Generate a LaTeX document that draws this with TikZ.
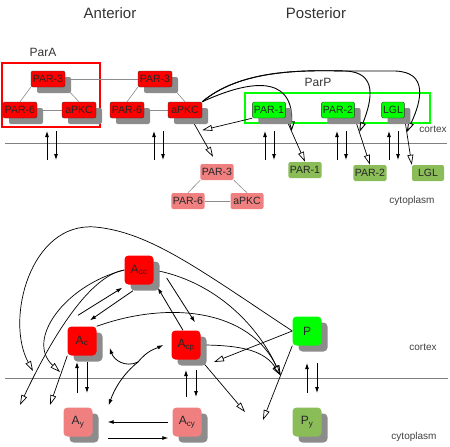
\documentclass[tikz,border=0pt]{standalone}
\usepackage{fontspec}
\setmainfont{Liberation Sans}
\usepackage{tikz}
\usetikzlibrary{arrows.meta,calc,positioning,shadows}

\definecolor{parred}{RGB}{255,0,0}
\definecolor{pargreen}{RGB}{0,255,0}
\definecolor{cytored}{RGB}{240,128,128}
\definecolor{cytogreen}{RGB}{138,188,88}
\pgfdeclarelayer{background}
\pgfsetlayers{background,main}

\begin{document}
\begin{tikzpicture}[
    x=1pt, y=-1pt,
    prot/.style={rectangle, rounded corners=2pt, draw=black!80, text=black!85,
        font=\fontsize{10.5}{11}\selectfont, inner xsep=1.5pt, inner ysep=0pt, minimum height=16pt},
    shade/.style={drop shadow={shadow xshift=6pt, shadow yshift=-6pt, fill=black!45, opacity=1}},
    antA/.style={prot, fill=parred, minimum width=34pt, shade},
    postP/.style={prot, fill=pargreen, shade},
    cytA/.style={prot, draw=none, fill=cytored, minimum width=33pt},
    cytP/.style={prot, draw=none, fill=cytogreen, minimum width=32pt},
    species/.style={rectangle, rounded corners=4pt, minimum width=29pt, minimum height=29pt,
        inner sep=0pt, font=\fontsize{12}{12}\selectfont, text=black!85, shade},
    link/.style={black!45, line width=0.6pt},
    membrane/.style={black!50, line width=0.6pt},
    flux/.style={-{Latex[length=6pt,width=4pt]}, line width=0.8pt},
    hollow/.style={-{Triangle[open,length=10pt,width=6pt]}, line width=0.7pt},
    title/.style={font=\fontsize{15}{15}\selectfont, text=black!80},
    note/.style={font=\fontsize{12}{12}\selectfont, text=black!80},
    place/.style={font=\fontsize{10}{10}\selectfont, text=black!75}
]
\useasboundingbox (0,0) rectangle (450,447);

% Labels
\node[title] (ant) at (110,13) {Anterior};
\node[title] (post) at (316,13) {Posterior};
\node[note] (parA) at (43,52) {ParA};
\node[note] (parP) at (318,82) {ParP};
\node[place] (cortex1) at (433,129) {cortex};
\node[place] (cyto1) at (412,201) {cytoplasm};
\node[place] (cortex2) at (423,347) {cortex};
\node[place] (cyto2) at (414,437) {cytoplasm};

% Anterior complexes
\node[antA] (a3) at (48,79) {PAR-3};
\node[antA] (a6) at (20,110) {PAR-6};
\node[antA] (ak) at (79,110) {aPKC};
\node[antA] (b3) at (155,79) {PAR-3};
\node[antA] (b6) at (127,110) {PAR-6};
\node[antA] (bk) at (185,110) {aPKC};
\node[cytA] (c3) at (217,172) {PAR-3};
\node[cytA] (c6) at (188,201) {PAR-6};
\node[cytA] (ck) at (247,201) {aPKC};

% Posterior proteins
\node[postP] (p1) at (269,110) {PAR-1};
\node[postP] (p2) at (338,110) {PAR-2};
\node[postP] (lgl) at (393,110) {LGL};
\node[cytP] (q1) at (305,170) {PAR-1};
\node[cytP] (q2) at (370,173) {PAR-2};
\node[cytP] (qlgl) at (428,173) {LGL};

% Model species
\node[species, fill=parred] (acc) at (139,270) {A\textsubscript{cc}};
\node[species, fill=parred] (ac) at (82,341) {A\textsubscript{c}};
\node[species, fill=parred] (acp) at (186,345) {A\textsubscript{cp}};
\node[species, fill=pargreen] (p) at (307,331) {P};
\node[species, fill=cytored] (ay) at (78,422) {A\textsubscript{y}};
\node[species, fill=cytored] (acy) at (187,422) {A\textsubscript{cy}};
\node[species, fill=cytogreen] (py) at (307,422) {P\textsubscript{y}};

% Free ends
\coordinate (hit1) at ($(p1.south east)!0.3!(q1.north)$);
\coordinate (hit2) at ($(p2.south east)!0.3!(q2.north)$);
\coordinate (hit3) at ($(lgl.south east)!0.3!(qlgl.north west)$);
\coordinate (accout) at (20,405);
\coordinate (acout) at (50,405);
\coordinate (acpout) at (245,412);
\coordinate (pout) at (263,420);
\coordinate (pconv) at ($(p.south west)!0.4!(pout)$);
\coordinate (pcut) at (214,362);
\coordinate (hitcc) at (33,371);
\coordinate (hitc) at (60,372);
\coordinate (junc) at (138,362);

\begin{pgfonlayer}{background}
% Membranes and domains
\draw[membrane] (5,143) -- (447,143);
\draw[membrane] (5,378) -- (448,378);
\draw[parred, line width=1.8pt] (2,63) rectangle (100,127);
\draw[pargreen, line width=1.8pt] (245,93) rectangle (430,123);

% Complex links
\draw[link] (a3.east) -- (b3.west);
\foreach \cx in {a,b,c} {
  \draw[link] (\cx3.south west) -- (\cx6.north);
  \draw[link] (\cx3.south east) -- (\cx k.north);
  \draw[link] (\cx6) -- (\cx k);
}

% Exchange with cytoplasm
\foreach \x in {47,154,265,337,389} {
  \draw[flux] (\x,160) -- (\x,131);
  \draw[flux] (\x+9,131) -- (\x+9,160);
}
\foreach \x/\ya/\yb in {77/362/393, 186/370/397, 307/363/393} {
  \draw[flux] (\x,\yb) -- (\x,\ya);
  \draw[flux] (\x+10,\ya) -- (\x+10,\yb);
}

% Removal (top)
\draw[hollow, shorten >=8pt] ([xshift=6pt]bk.south) -- (c3.north);
\draw[hollow] (p1.south west) -- ([yshift=-12pt]bk.south east);
\draw[hollow] (p1.south east) -- (q1.north);
\draw[hollow] (p2.south east) -- (q2.north);
\draw[hollow] (lgl.south east) -- (qlgl.north west);

% aPKC acts on posterior proteins
\draw[hollow, line width=0.9pt] (bk.north east) .. controls (245,82) and (293,72) .. (hit1);
\draw[hollow, line width=0.9pt] (bk.north east) .. controls (240,70) and (300,70) .. (345,71)
    .. controls (378,72) and (372,100) .. (hit2);
\draw[hollow, line width=0.9pt] (bk.north east) .. controls (240,70) and (300,70) .. (345,71)
    -- (395,71) .. controls (428,72) and (422,100) .. (hit3);

% Anterior reactions
\draw[flux] ([shift={(-4pt,11pt)}]ac.north) -- ([shift={(-2pt,-3pt)}]acc.south west);
\draw[flux] ([shift={(-6pt,-6pt)}]acc.south) -- ([shift={(8pt,6pt)}]ac.north);
\draw[flux] ([xshift=-3pt]acp.north) -- ([shift={(4pt,-3pt)}]acc.south east);
\draw[flux] ([shift={(13pt,-8pt)}]acc.east) -- ([shift={(9pt,8pt)}]acp.north);
\draw[flux] (junc) .. controls (125,368) and (114,360) .. ([shift={(13pt,-7pt)}]ac.east);
\draw[flux] (junc) .. controls (148,350) and (155,349) .. ([xshift=-8pt]acp.west);
\draw[flux] (junc) .. controls (122,375) and (114,390) .. ([shift={(16pt,2pt)}]ay.north east);
\draw[flux, shorten <=4pt, shorten >=15pt] (acy.west) -- (ay.east);
\draw[flux] ([shift={(15pt,-16pt)}]ay.east) -- ([shift={(-4pt,-16pt)}]acy.west);

% Removal (model)
\draw[hollow] (acc.west) .. controls (95,275) and (60,320) .. (accout);
\draw[hollow] (ac.south west) -- (acout);
\draw[hollow] (acp.south east) -- (acpout);
\draw[hollow] (p.south west) -- (pout);

% Mutual antagonism
\draw[hollow] (p.west) .. controls (200,270) and (150,232) .. (95,227)
    .. controls (30,222) and (5,320) .. (hitcc);
\draw[hollow] (acc.west) .. controls (65,285) and (25,340) .. (hitc);
\draw[hollow] (p.west) -- (pcut);
\draw[hollow] (acc.east) .. controls (210,280) and (255,320) .. (pconv);
\draw[hollow] (ac.north east) .. controls (170,300) and (250,310) .. (pconv);
\draw[hollow] (acp.east) .. controls (245,345) and (265,352) .. (pconv);
\end{pgfonlayer}

\end{tikzpicture}
\end{document}
